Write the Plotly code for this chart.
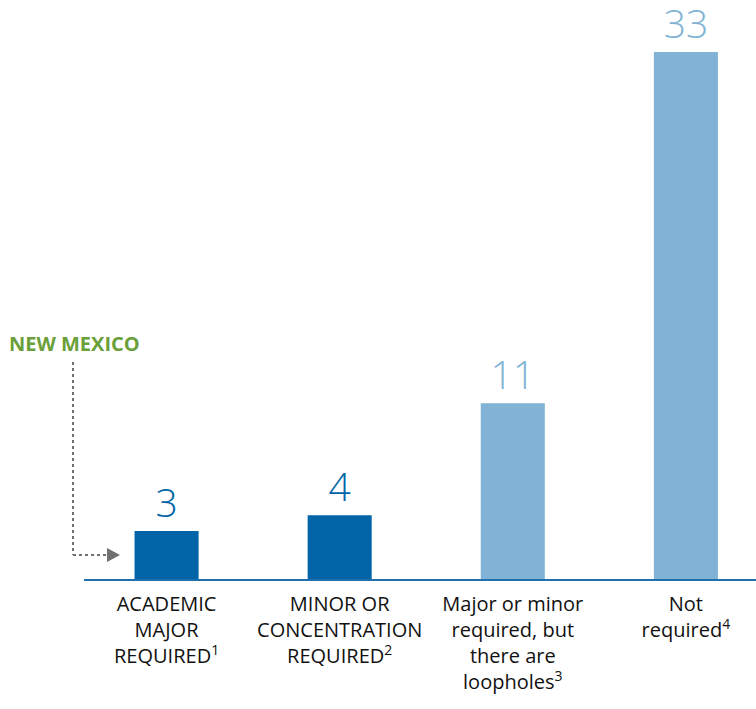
import plotly.graph_objects as go

categories = [
    "ACADEMIC<br>MAJOR<br>REQUIRED<sup>1</sup>",
    "MINOR OR<br>CONCENTRATION<br>REQUIRED<sup>2</sup>",
    "Major or minor<br>required, but<br>there are<br>loopholes<sup>3</sup>",
    "Not<br>required<sup>4</sup>",
]
values = [3, 4, 11, 33]
bar_colors = ["#0064A6", "#0064A6", "#80B3D5", "#80B3D5"]
callout_label = "NEW MEXICO"

W, H = 756, 709
L, T, B = 84, 0, 130
PW, PH = W - L, H - T - B


def xp(px):
    return (px - L) / PW


def yp(py):
    return (H - B - py) / PH


fig = go.Figure(
    go.Bar(
        x=list(range(len(values))),
        y=values,
        marker=dict(color=bar_colors, line=dict(width=0)),
        width=0.37,
        text=[str(v) for v in values],
        textposition="outside",
        textfont=dict(family="Open Sans", size=39, color=bar_colors, weight=300),
        cliponaxis=False,
        hoverinfo="skip",
    )
)

fig.update_xaxes(
    range=[-0.477, 3.405],
    tickmode="array",
    tickvals=list(range(len(categories))),
    ticktext=categories,
    tickfont=dict(family="Open Sans", size=20, color="#111111"),
    ticklabelstandoff=6,
    showline=True,
    linecolor="#1F6FAE",
    linewidth=2,
    showgrid=False,
    zeroline=False,
    ticks="",
    automargin=False,
)
fig.update_yaxes(range=[0, 36.26], visible=False, showgrid=False,
                 zeroline=False, automargin=False)

dot = dict(color="#707070", width=2, dash="dot")
fig.add_shape(type="line", xref="paper", yref="paper",
              x0=xp(73), x1=xp(73), y0=yp(362), y1=yp(555), line=dot)
fig.add_shape(type="line", xref="paper", yref="paper",
              x0=xp(73), x1=xp(107), y0=yp(555), y1=yp(555), line=dot)
fig.add_shape(
    type="path", xref="paper", yref="paper",
    path=f"M {xp(107)} {yp(548)} L {xp(120)} {yp(555)} L {xp(107)} {yp(562)} Z",
    fillcolor="#707070", line=dict(width=0),
)

fig.add_annotation(
    text=f"<b>{callout_label}</b>", xref="paper", yref="paper",
    x=xp(7), y=yp(343), xanchor="left", yanchor="middle", showarrow=False,
    font=dict(family="Open Sans", size=20, color="#6A9F3A"),
)

fig.update_layout(
    width=W, height=H,
    margin=dict(l=L, r=0, t=T, b=B, autoexpand=False),
    paper_bgcolor="white", plot_bgcolor="white",
    showlegend=False,
    bargap=0.6,
)

fig.write_html(
    "out.html",
    config={"displayModeBar": False},
    post_script="document.body.style.margin='0';document.body.style.overflow='hidden';",
)
